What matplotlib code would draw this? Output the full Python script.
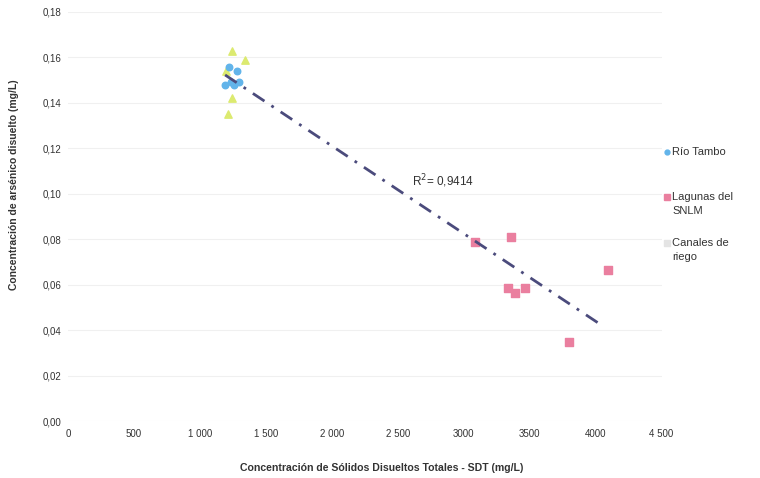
import matplotlib
matplotlib.use("Agg")
import matplotlib.pyplot as plt
from matplotlib.lines import Line2D
import numpy as np

plt.rcParams['font.family'] = ['Liberation Sans', 'DejaVu Sans']

# Río Tambo
tambo_sdt = [1222, 1282, 1191, 1237, 1297, 1260]
tambo_as = [0.156, 0.154, 0.148, 0.149, 0.149, 0.148]

# Lagunas del SNLM
lagunas_sdt = [3088, 3361, 3338, 3391, 3467, 4097, 3801]
lagunas_as = [0.079, 0.081, 0.0585, 0.0563, 0.0585, 0.0665, 0.0348]

# Canales de riego
canales_sdt = [1244, 1343, 1199, 1244, 1214]
canales_as = [0.163, 0.159, 0.154, 0.142, 0.135]

r2_text = "R$^2$= 0,9414"
series_names = [["Río Tambo"], ["Lagunas del", "SNLM"], ["Canales de", "riego"]]

xticks = [0, 500, 1000, 1500, 2000, 2500, 3000, 3500, 4000, 4500]
xtick_labels = ["0", "500", "1 000", "1 500", "2 000", "2 500", "3000", "3500", "4000", "4 500"]
yticks = [0.00, 0.02, 0.04, 0.06, 0.08, 0.10, 0.12, 0.14, 0.16, 0.18]

c_tambo = "#62b4ea"
c_lag = "#ea7f9f"
c_can = "#dcea70"
c_line = "#4b4b7c"

W, H = 760, 478
fig = plt.figure(figsize=(W / 100, H / 100), dpi=100)
ax = fig.add_axes([0.0895, 0.119, 0.781, 0.856])

ax.scatter(canales_sdt, canales_as, marker="^", s=28, color=c_can, zorder=3)
ax.scatter(tambo_sdt, tambo_as, marker="o", s=22, color=c_tambo, zorder=3)
ax.scatter(lagunas_sdt, lagunas_as, marker="s", s=26, color=c_lag, zorder=3)

# linear trend over all samples
all_x = np.array(tambo_sdt + lagunas_sdt + canales_sdt, dtype=float)
all_y = np.array(tambo_as + lagunas_as + canales_as)
m, b = np.polyfit(all_x, all_y, 1)
xs = np.array([all_x.min(), all_x.max() - 40])
ax.plot(xs, m * xs + b, color=c_line, lw=2.0, ls=(0, (5, 3, 1, 3)), zorder=4)
ax.text(2610, 0.1056, r2_text, fontsize=8.5, color="#333333", va="center")

ax.set_xlim(0, 4500)
ax.set_ylim(0, 0.18)
ax.set_xticks(xticks)
ax.set_xticklabels(xtick_labels)
ax.set_yticks(yticks)
ax.set_yticklabels([f"{v:.2f}".replace(".", ",") for v in yticks])
ax.tick_params(length=0, labelsize=7, labelcolor="#333333")
ax.tick_params(axis="y", pad=5)
ax.tick_params(axis="x", pad=6)
ax.grid(axis="y", color="#f0f0f0", lw=0.8)
ax.set_axisbelow(True)
for s in ax.spines.values():
    s.set_visible(False)

ax.set_xlabel("Concentración de Sólidos Disueltos Totales - SDT (mg/L)",
              fontsize=7.6, fontweight="bold", color="#333333")
ax.xaxis.set_label_coords(0.528, -0.103)
ax.set_ylabel("Concentración de arsénico disuelto (mg/L)",
              fontsize=7.5, fontweight="bold", color="#333333")
ax.yaxis.set_label_coords(-0.083, 0.577)

# legend drawn by hand: marker + one text per line
legend_marks = [("o", c_tambo, 3.5), ("s", c_lag, 4), ("s", "#e4e4e4", 4)]
legend_tops = [152, 197, 243]
for (mk, col, ms), names, ytop in zip(legend_marks, series_names, legend_tops):
    fig.add_artist(Line2D([667 / W], [1 - ytop / H], marker=mk, ls="",
                          color=col, markersize=ms, transform=fig.transFigure))
    for i, line in enumerate(names):
        fig.text(672 / W, 1 - (ytop + 14 * i) / H, line, fontsize=8,
                 color="#333333", va="center", ha="left")

fig.savefig("out.png", dpi=100)
